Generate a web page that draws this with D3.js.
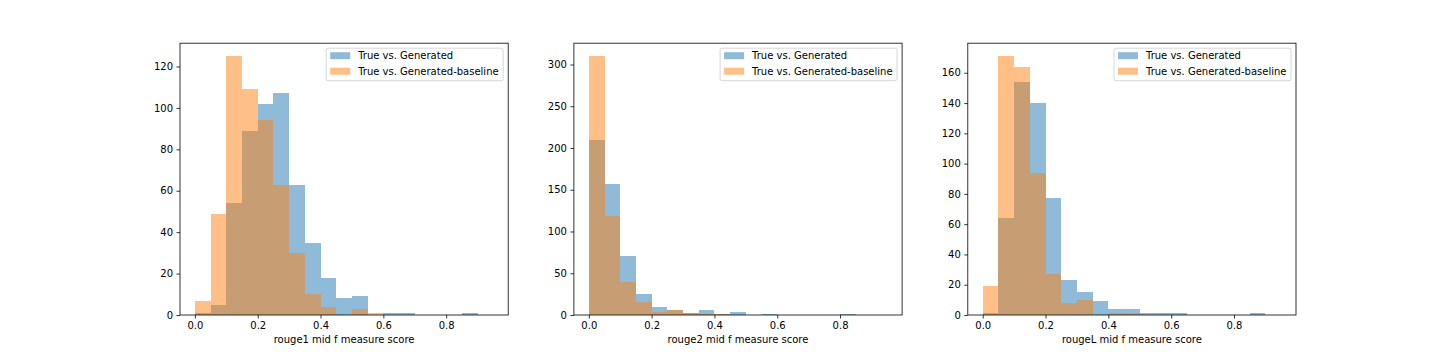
<!DOCTYPE html>
<html>
<head>
<meta charset="utf-8">
<script src="https://cdn.jsdelivr.net/npm/d3@7"></script>
<style>
  html, body { margin: 0; padding: 0; background: #fff; }
  svg { display: block; }
  text { font-family: "DejaVu Sans", sans-serif; }
</style>
</head>
<body>
<svg id="chart" width="1440" height="360"></svg>
<script>
// Bin edges (width 0.05)
const binEdges = [0.00, 0.05, 0.10, 0.15, 0.20, 0.25, 0.30, 0.35, 0.40, 0.45,
                  0.50, 0.55, 0.60, 0.65, 0.70, 0.75, 0.80, 0.85, 0.90, 0.95];

const seriesNames = ["True vs. Generated", "True vs. Generated-baseline"];
const xLabels = ["rouge1 mid f measure score", "rouge2 mid f measure score", "rougeL mid f measure score"];

// counts per bin (19 bins)
const rouge1Generated = [1, 5, 54, 89, 102, 107, 63, 35, 18, 8, 9, 0, 1, 1, 0, 0, 0, 1, 0];
const rouge1Baseline  = [7, 49, 125, 109, 94, 63, 30, 10, 4, 0, 3, 1, 0, 0, 0, 0, 0, 0, 0];

const rouge2Generated = [210, 157, 71, 25, 10, 6, 2, 6, 1, 4, 0, 1, 0, 0, 0, 0, 1, 0, 0];
const rouge2Baseline  = [310, 118, 40, 16, 4, 6, 2, 1, 1, 0, 0, 0, 0, 0, 0, 0, 0, 0, 0];

const rougeLGenerated = [1, 64, 154, 140, 77, 23, 15, 9, 4, 4, 1, 1, 1, 0, 0, 0, 0, 1, 0];
const rougeLBaseline  = [19, 171, 164, 94, 27, 8, 10, 0, 1, 1, 0, 0, 0, 0, 0, 0, 0, 0, 0];

const xTicks = [0.0, 0.2, 0.4, 0.6, 0.8];
const yTicks1 = [0, 20, 40, 60, 80, 100, 120];
const yTicks2 = [0, 50, 100, 150, 200, 250, 300];
const yTicks3 = [0, 20, 40, 60, 80, 100, 120, 140, 160];

const panels = [
  { gen: rouge1Generated, base: rouge1Baseline, yTicks: yTicks1, xLabel: xLabels[0] },
  { gen: rouge2Generated, base: rouge2Baseline, yTicks: yTicks2, xLabel: xLabels[1] },
  { gen: rougeLGenerated, base: rougeLBaseline, yTicks: yTicks3, xLabel: xLabels[2] }
];

const colors = ["rgba(31,119,180,0.5)", "rgba(255,127,14,0.5)"];

const svg = d3.select("#chart");
const lefts = [180, 573.9, 967.8];
const pw = 328.2;
const axTop = 43.2, axBottom = 315;

panels.forEach((p, i) => {
  const x0 = lefts[i];
  const g = svg.append("g");
  const lo = binEdges[0], hi = binEdges[binEdges.length - 1];
  const m = (hi - lo) * 0.05;
  const x = d3.scaleLinear().domain([lo - m, hi + m]).range([x0, x0 + pw]);
  const ymax = d3.max(p.gen.concat(p.base)) * 1.05;
  const y = d3.scaleLinear().domain([0, ymax]).range([axBottom, axTop]);

  [p.gen, p.base].forEach((vals, s) => {
    g.append("g").attr("shape-rendering", "crispEdges").selectAll("rect")
      .data(vals.map((v, k) => ({ v, a: binEdges[k], b: binEdges[k + 1] })).filter(d => d.v > 0))
      .join("rect")
      .attr("x", d => x(d.a))
      .attr("width", d => x(d.b) - x(d.a))
      .attr("y", d => y(d.v))
      .attr("height", d => y(0) - y(d.v))
      .attr("fill", colors[s]);
  });

  // axes
  const xAxis = d3.axisBottom(x).tickValues(xTicks).tickFormat(d3.format(".1f")).tickSize(3.5).tickPadding(3.5);
  const gx = g.append("g").attr("transform", `translate(0,${axBottom})`).call(xAxis);
  const yAxis = d3.axisLeft(y).tickValues(p.yTicks).tickFormat(d3.format("d")).tickSize(3.5).tickPadding(3.5);
  const gy = g.append("g").attr("transform", `translate(${x0},0)`).call(yAxis);
  [gx, gy].forEach(a => {
    a.select(".domain").remove();
    a.selectAll(".tick line").attr("stroke", "#000").attr("stroke-width", 0.8);
    a.selectAll(".tick text").attr("font-size", 10).attr("fill", "#000").attr("font-family", "DejaVu Sans, sans-serif");
  });
  gx.selectAll(".tick text").attr("dy", null).attr("y", 13.6);

  // spines
  g.append("rect").attr("x", x0).attr("y", axTop).attr("width", pw).attr("height", axBottom - axTop)
    .attr("fill", "none").attr("stroke", "#000").attr("stroke-width", 0.8);

  // x label
  g.append("text").attr("x", x0 + pw / 2).attr("y", 342.5).attr("text-anchor", "middle")
    .attr("font-size", 10).attr("fill", "#000").text(p.xLabel);

  // legend
  const lw = 177, lh = 32.5;
  const lx = x0 + pw - 5 - lw, ly = axTop + 5;
  const lg = g.append("g");
  lg.append("rect").attr("x", lx).attr("y", ly).attr("width", lw).attr("height", lh)
    .attr("rx", 2).attr("fill", "rgba(255,255,255,0.8)").attr("stroke", "#cccccc").attr("stroke-width", 0.8);
  seriesNames.forEach((nm, s) => {
    const cy = ly + 7.5 + s * 15.5;
    lg.append("rect").attr("x", lx + 4).attr("y", cy - 3.5).attr("width", 20).attr("height", 7).attr("fill", colors[s]);
    lg.append("text").attr("x", lx + 32).attr("y", cy + 3.6).attr("font-size", 10).attr("fill", "#000").text(nm);
  });
});
</script>
</body>
</html>
